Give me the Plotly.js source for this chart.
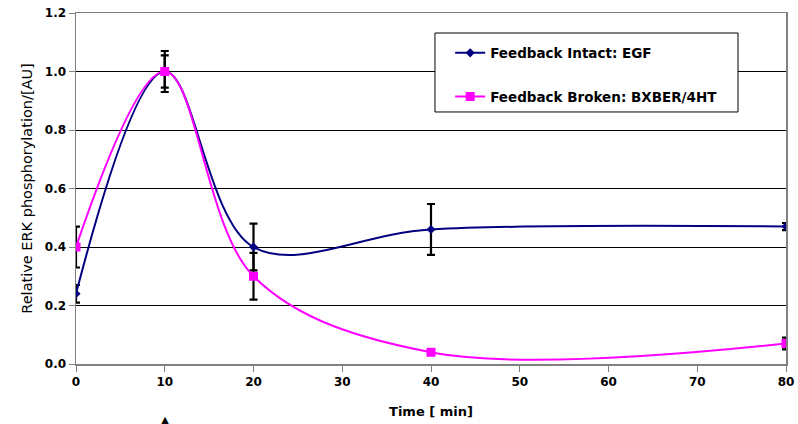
<!DOCTYPE html>
<html><head><meta charset="utf-8">
<script src="https://cdn.plot.ly/plotly-3.0.1.min.js"></script>
<style>body{margin:0;background:#fff}#c{width:798px;height:424px}</style>
</head><body><div id="c"></div>
<script>
const time = [0, 10, 20, 40, 80];
const intactName = "Feedback Intact: EGF";
const intactVals = [0.24, 1.0, 0.40, 0.46, 0.47];
const intactErr = [0.03, 0.07, 0.08, 0.087, 0.012];
const brokenName = "Feedback Broken: BXBER/4HT";
const brokenVals = [0.40, 1.0, 0.30, 0.04, 0.07];
const brokenErr = [0.07, 0.055, 0.08, 0.005, 0.02];
const xTicks = [0, 10, 20, 30, 40, 50, 60, 70, 80];
const yTicks = [0, 0.2, 0.4, 0.6, 0.8, 1.0, 1.2];

const FAM = 'DejaVu Sans, Arial, sans-serif';
const errStyle = {type: 'data', visible: true, color: '#000', thickness: 2.2, width: 4};
const traces = [
  {x: time, y: intactVals, name: intactName, legendgroup: 'a', type: 'scatter', mode: 'lines+markers',
   line: {color: '#000080', width: 2, shape: 'spline', smoothing: 1},
   marker: {symbol: 'diamond', size: 7, color: '#000080'},
   error_y: Object.assign({array: intactErr}, errStyle)},
  {x: time, y: brokenVals, name: brokenName, legendgroup: 'b', type: 'scatter', mode: 'lines+markers',
   line: {color: '#FF00FF', width: 2, shape: 'spline', smoothing: 1},
   marker: {symbol: 'square', size: 9, color: '#FF00FF'},
   error_y: Object.assign({array: brokenErr}, errStyle)}
];
const boldFont = {family: FAM, size: 12, color: '#000', weight: 'bold'};
const layout = {
  width: 798, height: 424,
  margin: {l: 76, r: 12, t: 13, b: 60},
  paper_bgcolor: '#fff', plot_bgcolor: '#fff',
  showlegend: true,
  legend: {x: 0.527, y: 0.93, xanchor: 'left', yanchor: 'top', bgcolor: 'rgba(0,0,0,0)',
    borderwidth: 0, font: {family: FAM, size: 13.5, color: '#000', weight: 'bold'}, tracegroupgap: 23, itemwidth: 30},
  shapes: [{type: 'rect', xref: 'paper', yref: 'paper', x0: 0.5056, x1: 0.9324, y0: 0.718, y1: 0.943,
    line: {color: '#000', width: 1}, fillcolor: '#fff', layer: 'above'}],
  xaxis: {range: [0, 80], tickvals: xTicks, ticktext: xTicks.map(String), showgrid: false,
    zeroline: false, showline: true, linecolor: '#808080', linewidth: 1.5, mirror: true,
    ticks: 'outside', ticklen: 6, tickcolor: '#808080',
    tickfont: boldFont,
    title: {text: 'Time [ min]', font: {family: FAM, size: 13, color: '#000', weight: 'bold'}, standoff: 19}},
  yaxis: {range: [0, 1.2], tickvals: yTicks, ticktext: yTicks.map(v => v.toFixed(1)), showgrid: true,
    gridcolor: '#000', gridwidth: 1, zeroline: false, showline: true, linecolor: '#808080', linewidth: 1.5, mirror: true,
    ticks: 'outside', ticklen: 6, tickcolor: '#808080',
    tickfont: boldFont,
    title: {text: 'Relative ERK phosphorylation/[AU]', font: {family: FAM, size: 14.5, color: '#000'}, standoff: 9}},
  annotations: [{x: 10, xref: 'x', y: -0.135, yref: 'paper', yanchor: 'top', text: '▲', showarrow: false,
    font: {family: 'DejaVu Sans', size: 13, color: '#000'}}]
};
Plotly.newPlot('c', traces, layout, {displayModeBar: false, staticPlot: true});
</script></body></html>
